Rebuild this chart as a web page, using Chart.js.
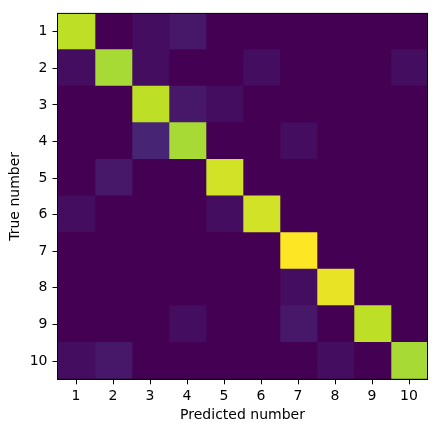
<!DOCTYPE html>
<html>
<head>
<meta charset="utf-8">
<script src="https://cdn.jsdelivr.net/npm/chart.js@4"></script>
<style>
  html, body { margin: 0; padding: 0; background: #fff; }
  canvas { display: block; }
</style>
</head>
<body>
<canvas id="cm" width="436" height="432"></canvas>
<script>
const TRUE_LABELS = ['1', '2', '3', '4', '5', '6', '7', '8', '9', '10'];
const PRED_LABELS = [1, 2, 3, 4, 5, 6, 7, 8, 9, 10];

// rows = true number, columns = predicted number
const ROW_1  = [27, 0, 1, 2, 0, 0, 0, 0, 0, 0];
const ROW_2  = [1, 26, 1, 0, 0, 1, 0, 0, 0, 1];
const ROW_3  = [0, 0, 27, 2, 1, 0, 0, 0, 0, 0];
const ROW_4  = [0, 0, 3, 26, 0, 0, 1, 0, 0, 0];
const ROW_5  = [0, 2, 0, 0, 28, 0, 0, 0, 0, 0];
const ROW_6  = [1, 0, 0, 0, 1, 28, 0, 0, 0, 0];
const ROW_7  = [0, 0, 0, 0, 0, 0, 30, 0, 0, 0];
const ROW_8  = [0, 0, 0, 0, 0, 0, 1, 29, 0, 0];
const ROW_9  = [0, 0, 0, 1, 0, 0, 2, 0, 27, 0];
const ROW_10 = [1, 2, 0, 0, 0, 0, 0, 1, 0, 26];

const MATRIX = [ROW_1, ROW_2, ROW_3, ROW_4, ROW_5, ROW_6, ROW_7, ROW_8, ROW_9, ROW_10];

// viridis anchors at 0, 0.1, ... 1.0
const VIRIDIS = ['#440154', '#482475', '#414487', '#355f8d', '#2a788e', '#21918c',
                 '#22a884', '#44bf70', '#7ad151', '#bddf26', '#fde725'];

function hexToRgb(h) {
  return [parseInt(h.slice(1, 3), 16), parseInt(h.slice(3, 5), 16), parseInt(h.slice(5, 7), 16)];
}

function viridis(t) {
  t = Math.max(0, Math.min(1, t));
  const pos = t * (VIRIDIS.length - 1);
  const i = Math.min(Math.floor(pos), VIRIDIS.length - 2);
  const f = pos - i;
  const a = hexToRgb(VIRIDIS[i]);
  const b = hexToRgb(VIRIDIS[i + 1]);
  const c = a.map((v, k) => Math.round(v + (b[k] - v) * f));
  return 'rgb(' + c.join(',') + ')';
}

const vmax = Math.max(...MATRIX.flat());
const vmin = Math.min(...MATRIX.flat());

// one floating-bar dataset per predicted column
const datasets = PRED_LABELS.map((p, j) => ({
  data: TRUE_LABELS.map(() => [p - 0.5, p + 0.5]),
  backgroundColor: MATRIX.map(row => viridis((row[j] - vmin) / (vmax - vmin))),
  borderWidth: 0,
  inflateAmount: 0.8,
  grouped: false,
  barPercentage: 1,
  categoryPercentage: 1
}));

const frame = {
  id: 'frame',
  afterDatasetsDraw(chart) {
    const a = chart.chartArea;
    const ctx = chart.ctx;
    ctx.save();
    ctx.strokeStyle = '#000';
    ctx.lineWidth = 1;
    ctx.strokeRect(a.left, a.top, a.right - a.left, a.bottom - a.top);
    ctx.restore();
  }
};

const font = { family: 'DejaVu Sans', size: 14 };

new Chart(document.getElementById('cm'), {
  type: 'bar',
  data: { labels: TRUE_LABELS, datasets: datasets },
  options: {
    indexAxis: 'y',
    responsive: false,
    animation: false,
    layout: { padding: { left: 0, right: 8.5, top: 9.3, bottom: 0 } },
    plugins: { legend: { display: false }, tooltip: { enabled: false } },
    scales: {
      x: {
        type: 'linear',
        min: 0.5,
        max: 10.5,
        afterBuildTicks: s => { s.ticks = PRED_LABELS.map(v => ({ value: v })); },
        afterFit: s => { s.height = 52.7; },
        ticks: { color: '#000', font: font, padding: 4, maxRotation: 0 },
        grid: { drawOnChartArea: false, tickLength: 5, color: '#000', lineWidth: 1 },
        border: { display: true, color: '#000', width: 1 },
        title: { display: true, text: 'Predicted number', color: '#000', font: font,
                 padding: { top: 0, bottom: 8.3 } }
      },
      y: {
        type: 'category',
        offset: true,
        afterFit: s => { s.width = 57.5; },
        ticks: { color: '#000', font: font, padding: 5 },
        grid: { offset: false, drawOnChartArea: false, tickLength: 5, color: '#000', lineWidth: 1 },
        border: { display: true, color: '#000', width: 1 },
        title: { display: true, text: 'True number', color: '#000', font: font,
                 padding: { top: 6.6, bottom: 0 } }
      }
    }
  },
  plugins: [frame]
});
</script>
</body>
</html>
